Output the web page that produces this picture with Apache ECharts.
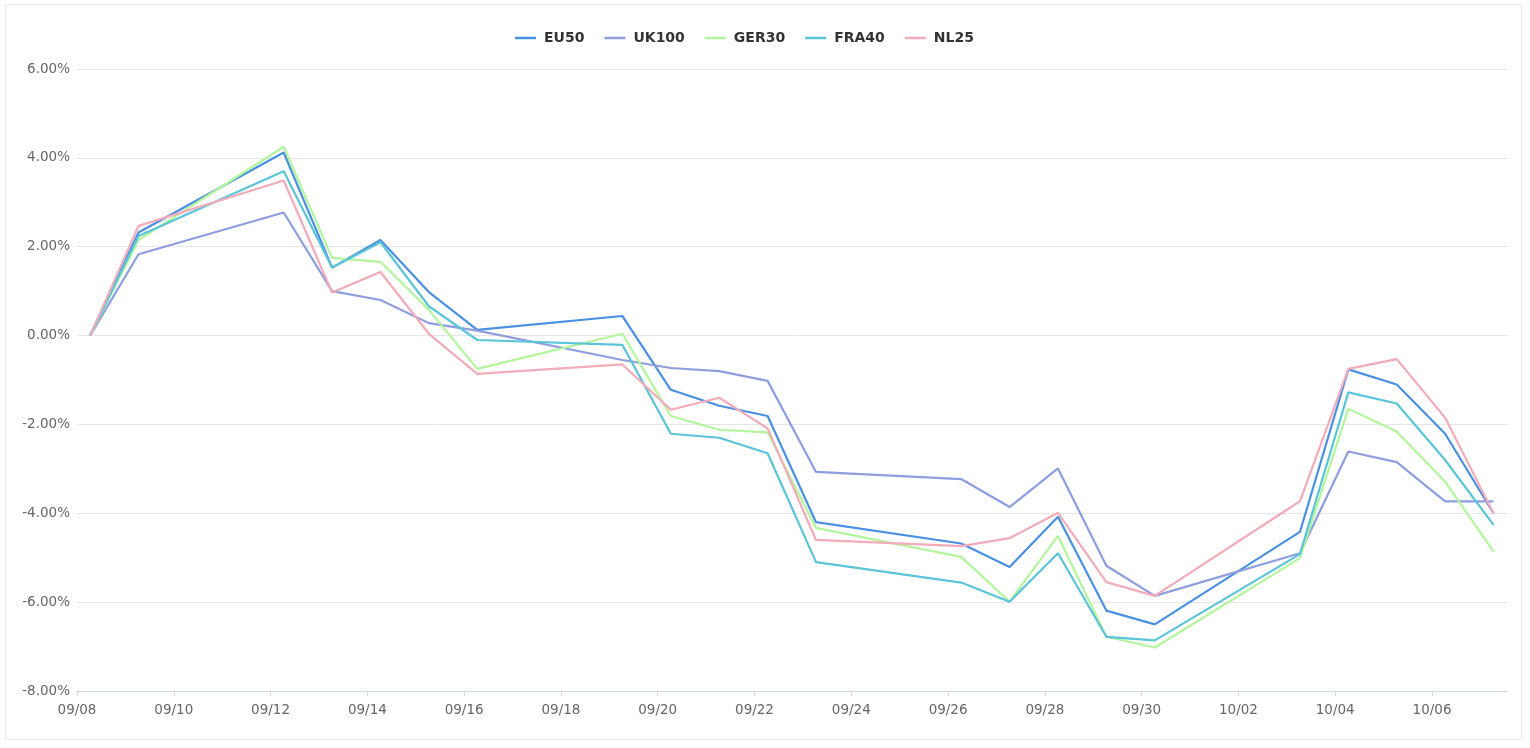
<!DOCTYPE html>
<html>
<head>
<meta charset="utf-8">
<script src="https://cdn.jsdelivr.net/npm/echarts@6/dist/echarts.min.js"></script>
<style>
html,body{margin:0;padding:0;background:#fff;}
#frame{position:absolute;left:5px;top:4px;width:1515px;height:734px;border:1px solid #e3e7ec;border-radius:2px;}
#chart{position:absolute;left:0;top:0;width:1530px;height:748px;}
</style>
</head>
<body>
<div id="frame"></div>
<div id="chart"></div>
<script>
// ---- data ----
const dates = ['2022-09-08T06:30:00Z','2022-09-09T06:30:00Z','2022-09-12T06:30:00Z','2022-09-13T06:30:00Z',
  '2022-09-14T06:30:00Z','2022-09-15T06:30:00Z','2022-09-16T06:30:00Z','2022-09-19T06:30:00Z',
  '2022-09-20T06:30:00Z','2022-09-21T06:30:00Z','2022-09-22T06:30:00Z','2022-09-23T06:30:00Z',
  '2022-09-26T06:30:00Z','2022-09-27T06:30:00Z','2022-09-28T06:30:00Z','2022-09-29T06:30:00Z',
  '2022-09-30T06:30:00Z','2022-10-03T06:30:00Z','2022-10-04T06:30:00Z','2022-10-05T06:30:00Z',
  '2022-10-06T06:30:00Z','2022-10-07T06:30:00Z'];
const seriesNames = ['EU50','UK100','GER30','FRA40','NL25'];
const EU50  = [0, 2.32, 4.12, 1.53, 2.15, 0.98, 0.13, 0.44, -1.22, -1.58, -1.81, -4.20, -4.68, -5.21, -4.08, -6.19, -6.50, -4.42, -0.76, -1.10, -2.21, -4.00];
const UK100 = [0, 1.83, 2.77, 1.00, 0.80, 0.28, 0.11, -0.55, -0.73, -0.80, -1.02, -3.07, -3.23, -3.86, -2.99, -5.18, -5.86, -4.90, -2.61, -2.85, -3.73, -3.73];
const GER30 = [0, 2.15, 4.25, 1.75, 1.66, 0.58, -0.75, 0.04, -1.81, -2.12, -2.18, -4.33, -4.98, -5.99, -4.51, -6.78, -7.02, -5.01, -1.65, -2.16, -3.29, -4.86];
const FRA40 = [0, 2.24, 3.70, 1.53, 2.10, 0.66, -0.10, -0.21, -2.21, -2.30, -2.65, -5.10, -5.56, -5.99, -4.90, -6.78, -6.86, -4.92, -1.28, -1.53, -2.80, -4.26];
const NL25  = [0, 2.47, 3.49, 0.97, 1.43, 0.04, -0.86, -0.65, -1.67, -1.40, -2.09, -4.60, -4.74, -4.56, -3.99, -5.55, -5.86, -3.73, -0.75, -0.53, -1.85, -4.00];
const xTickLabels = ['09/08','09/10','09/12','09/14','09/16','09/18','09/20','09/22','09/24','09/26','09/28','09/30','10/02','10/04','10/06'];
const axisStart = '2022-09-08T00:00:00Z';
const axisEnd = '2022-10-07T13:26:00Z';
const yMin = -8, yMax = 6, yStep = 2;

const colors = ['#4a90e2','#8e9de0','#b3f59c','#5bc4d8','#f2abb8'];
const DAY = 86400000;
const t0 = Date.parse(axisStart);
const toDay = s => (Date.parse(s) - t0) / DAY;
const tickDays = xTickLabels.map((_, i) => i * 2);
const values = [EU50, UK100, GER30, FRA40, NL25];

const chart = echarts.init(document.getElementById('chart'));
chart.setOption({
  animation: false,
  color: colors,
  legend: {
    top: 26,
    left: 510,
    icon: 'rect',
    itemWidth: 21,
    itemHeight: 2.5,
    itemGap: 20,
    textStyle: {fontFamily: 'DejaVu Sans', fontWeight: 'bold', fontSize: 14, color: '#333', padding: [0,0,0,3]},
    data: seriesNames
  },
  grid: {left: 77, right: 22.5, top: 69, bottom: 57, containLabel: false},
  xAxis: {
    type: 'value',
    min: 0,
    max: toDay(axisEnd),
    interval: 2,
    splitLine: {show: false},
    axisLine: {onZero: false, lineStyle: {color: '#cfd6e8', width: 1}},
    axisTick: {show: true, length: 5, lineStyle: {color: '#cfd6e8'}, customValues: tickDays},
    axisLabel: {
      customValues: tickDays,
      margin: 12,
      fontFamily: 'DejaVu Sans', fontSize: 13.5, color: '#666',
      formatter: v => xTickLabels[Math.round(v / 2)] || ''
    }
  },
  yAxis: {
    type: 'value',
    min: yMin, max: yMax, interval: yStep,
    axisLine: {show: false},
    axisTick: {show: false},
    splitLine: {lineStyle: {color: '#e6e6e6', width: 1}},
    axisLabel: {
      margin: 7,
      fontFamily: 'DejaVu Sans', fontSize: 13.5, color: '#666',
      formatter: v => v.toFixed(2) + '%'
    }
  },
  series: seriesNames.map((n, k) => ({
    name: n,
    type: 'line',
    symbol: 'none',
    lineStyle: {width: 2.2},
    data: dates.map((d, i) => [toDay(d), values[k][i]])
  }))
});
</script>
</body>
</html>
